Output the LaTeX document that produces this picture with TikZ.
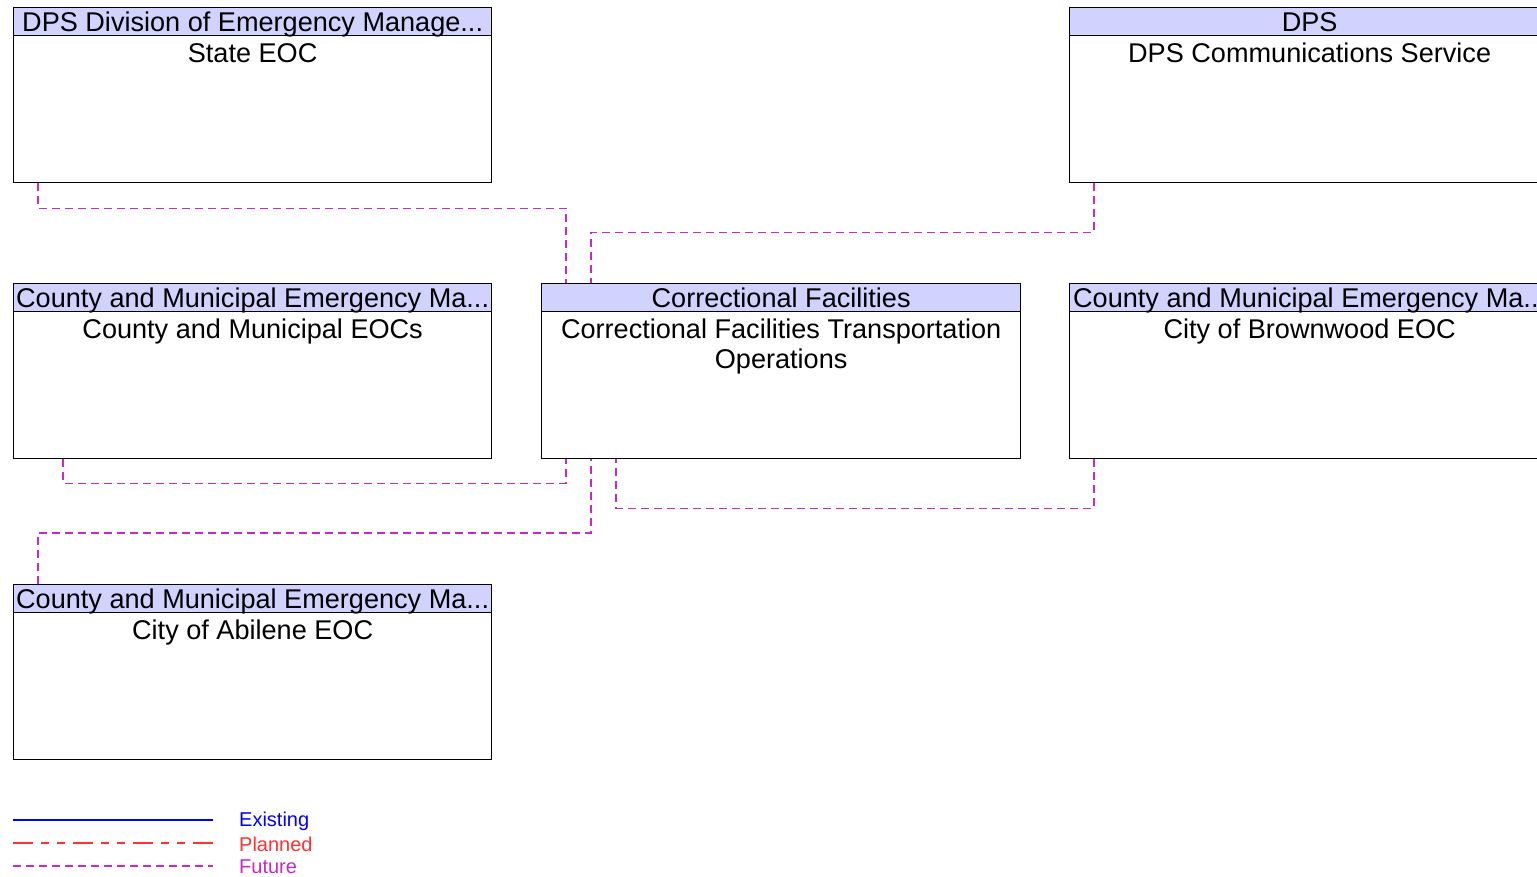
\documentclass[tikz,border=0pt]{standalone}
\usepackage{fontspec}
\setmainfont{Liberation Sans}
\usetikzlibrary{calc}
\definecolor{hdrfill}{RGB}{210,210,255}
\definecolor{futcol}{RGB}{200,40,200}
\definecolor{plancol}{RGB}{255,50,50}
\definecolor{excol}{RGB}{0,0,255}
\tikzset{
  box/.style={draw=black, line width=1.3pt, fill=white, minimum width=478pt, minimum height=175pt, anchor=north west, inner sep=0pt},
  hdr/.style={draw=black, line width=1pt, fill=hdrfill, minimum width=478pt, minimum height=28pt, anchor=north, inner sep=0pt, text height=19.5pt, text depth=0pt, font=\fontsize{27.1}{30}\selectfont},
  body/.style={anchor=north, align=center, inner sep=0pt, font=\fontsize{27.1}{30}\selectfont},
  future/.style={draw=futcol, line width=1.2pt, dash pattern=on 8pt off 5pt},
  legtext/.style={anchor=west, inner sep=0pt, font=\fontsize{20}{24}\selectfont}
}
\begin{document}
\begin{tikzpicture}[x=1pt,y=-1pt]
\useasboundingbox[fill=white] (0,0) rectangle (1537,877);
% boxes
\node[box] (state) at (13,7) {};
\node[hdr] (stateh) at (state.north) {DPS Division of Emergency Manage...};
\node[body] (stateb) at ([yshift=-7pt]stateh.south) {State EOC};

\node[box, minimum width=480pt] (dps) at (1069,7) {};
\node[hdr, minimum width=480pt] (dpsh) at (dps.north) {DPS};
\node[body] (dpsb) at ([yshift=-7pt]dpsh.south) {DPS Communications Service};

\node[box] (county) at (13,283) {};
\node[hdr] (countyh) at (county.north) {County and Municipal Emergency Ma...};
\node[body] (countyb) at ([yshift=-7pt]countyh.south) {County and Municipal EOCs};

\node[box, minimum width=479pt] (corr) at (541,283) {};
\node[hdr, minimum width=479pt] (corrh) at (corr.north) {Correctional Facilities};
\node[body] (corrb) at ([yshift=-7pt]corrh.south) {Correctional Facilities Transportation\\Operations};

\node[box, minimum width=480pt] (brown) at (1069,283) {};
\node[hdr, minimum width=480pt] (brownh) at (brown.north) {County and Municipal Emergency Ma...};
\node[body] (brownb) at ([yshift=-7pt]brownh.south) {City of Brownwood EOC};

\node[box] (abil) at (13,584) {};
\node[hdr] (abilh) at (abil.north) {County and Municipal Emergency Ma...};
\node[body] (abilb) at ([yshift=-7pt]abilh.south) {City of Abilene EOC};

% connectors
\draw[future] ([xshift=25pt]state.south west) -- ++(0,25) -| ([xshift=25pt]corr.north west);
\draw[future] ([xshift=25pt]dps.south west) -- ++(0,49) -| ([xshift=50pt]corr.north west);
\draw[future] ([xshift=50pt]county.south west) -- ++(0,24) -| ([xshift=25pt]corr.south west);
\draw[future] ([xshift=25pt]abil.north west) -- ++(0,-51) -| ([xshift=50pt]corr.south west);
\draw[future] ([xshift=25pt]brown.south west) -- ++(0,49) -| ([xshift=75pt]corr.south west);

% legend
\coordinate (l1a) at (13,820); \coordinate (l1b) at (213,820);
\coordinate (l2a) at (13,843); \coordinate (l2b) at (213,843);
\coordinate (l3a) at (13,866); \coordinate (l3b) at (213,866);
\draw[excol, line width=1.3pt] (l1a) -- (l1b);
\draw[plancol, line width=1.3pt, dash pattern=on 20pt off 8pt on 8pt off 8pt on 8pt off 8pt] (l2a) -- (l2b);
\draw[future] (l3a) -- (l3b);
\node[legtext, text=excol] (lg1) at (239,821) {Existing};
\node[legtext, text=plancol] (lg2) at (239,844) {Planned};
\node[legtext, text=futcol] (lg3) at (239,867) {Future};
\end{tikzpicture}
\end{document}
